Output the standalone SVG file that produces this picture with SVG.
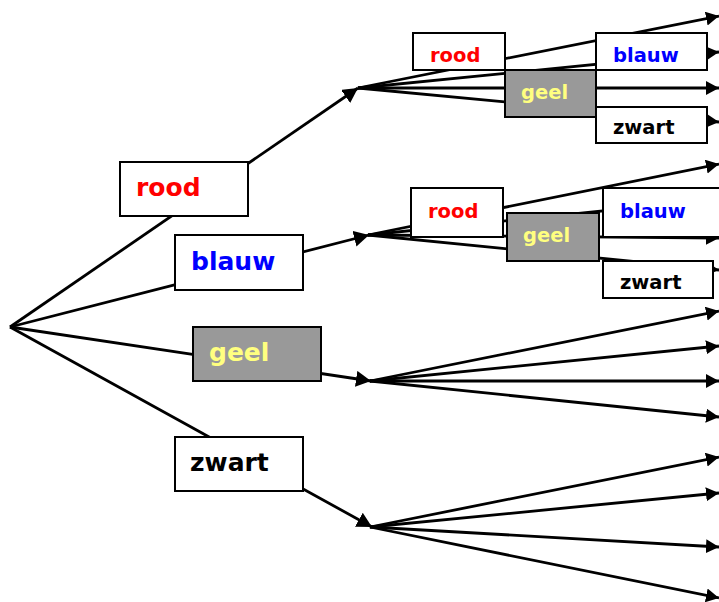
<svg xmlns="http://www.w3.org/2000/svg" width="719" height="602" viewBox="0 0 719 602">
<style>
.box{fill:#fff;stroke:#000;stroke-width:2}
.grey{fill:#999;stroke:#000;stroke-width:2}
.ln{stroke:#000;stroke-width:2.8;fill:none}
.t1{font-family:"DejaVu Sans",Verdana,sans-serif;font-weight:bold;font-size:25px}
.t2{font-family:"DejaVu Sans",Verdana,sans-serif;font-weight:bold;font-size:19.5px}
.r{fill:#f00}.b{fill:#00f}.y{fill:#ffff80}.k{fill:#000}
</style>
<defs>
<marker id="ah" markerUnits="userSpaceOnUse" markerWidth="14" markerHeight="16" refX="13" refY="7" orient="auto">
<path d="M0,0 L13,7 L0,14 z" fill="#000"/>
</marker>
<marker id="ah1" markerUnits="userSpaceOnUse" markerWidth="16" markerHeight="18" refX="15" refY="8" orient="auto">
<path d="M0,0 L15,8 L0,16 z" fill="#000"/>
</marker>
</defs>
<rect width="719" height="602" fill="#fff"/>
<g id="connectors">
<line class="ln" x1="10" y1="327" x2="358" y2="88" marker-end="url(#ah1)"/>
<line class="ln" x1="10" y1="327" x2="369" y2="235" marker-end="url(#ah1)"/>
<line class="ln" x1="10" y1="327" x2="371" y2="381" marker-end="url(#ah1)"/>
<line class="ln" x1="10" y1="327" x2="372" y2="527" marker-end="url(#ah1)"/>
<line class="ln" x1="358" y1="88" x2="719" y2="16" marker-end="url(#ah)"/>
<line class="ln" x1="358" y1="88" x2="719" y2="52" marker-end="url(#ah)"/>
<line class="ln" x1="358" y1="88" x2="719" y2="88" marker-end="url(#ah)"/>
<line class="ln" x1="358" y1="88" x2="719" y2="122" marker-end="url(#ah)"/>
<line class="ln" x1="368" y1="235" x2="719" y2="164" marker-end="url(#ah)"/>
<line class="ln" x1="368" y1="235" x2="719" y2="199" marker-end="url(#ah)"/>
<line class="ln" x1="368" y1="235" x2="719" y2="238" marker-end="url(#ah)"/>
<line class="ln" x1="368" y1="235" x2="719" y2="270" marker-end="url(#ah)"/>
<line class="ln" x1="370" y1="381" x2="719" y2="311" marker-end="url(#ah)"/>
<line class="ln" x1="370" y1="381" x2="719" y2="346" marker-end="url(#ah)"/>
<line class="ln" x1="370" y1="381" x2="719" y2="381" marker-end="url(#ah)"/>
<line class="ln" x1="370" y1="381" x2="719" y2="417" marker-end="url(#ah)"/>
<line class="ln" x1="370" y1="527" x2="719" y2="457" marker-end="url(#ah)"/>
<line class="ln" x1="370" y1="527" x2="719" y2="493" marker-end="url(#ah)"/>
<line class="ln" x1="370" y1="527" x2="719" y2="547" marker-end="url(#ah)"/>
<line class="ln" x1="370" y1="527" x2="719" y2="598" marker-end="url(#ah)"/>
</g>
<g id="n-rood"><rect class="box" x="120" y="162" width="128" height="54"/><text class="t1 r" x="136" y="196">rood</text></g>
<g id="n-blauw"><rect class="box" x="175" y="235" width="128" height="55"/><text class="t1 b" x="191" y="270">blauw</text></g>
<g id="n-geel"><rect class="grey" x="193" y="327" width="128" height="54"/><text class="t1 y" x="209" y="361">geel</text></g>
<g id="n-zwart"><rect class="box" x="175" y="437" width="128" height="54"/><text class="t1 k" x="190" y="471">zwart</text></g>
<g id="n-rood-rood"><rect class="box" x="413" y="33" width="92" height="37"/><text class="t2 r" x="430" y="62">rood</text></g>
<g id="n-rood-blauw"><rect class="box" x="596" y="33" width="111" height="37"/><text class="t2 b" x="613" y="62">blauw</text></g>
<g id="n-rood-geel"><rect class="grey" x="505" y="70" width="91" height="47"/><text class="t2 y" x="521" y="99">geel</text></g>
<g id="n-rood-zwart"><rect class="box" x="596" y="107" width="111" height="36"/><text class="t2 k" x="613" y="134">zwart</text></g>
<g id="n-blauw-rood"><rect class="box" x="411" y="188" width="92" height="49"/><text class="t2 r" x="428" y="218">rood</text></g>
<g id="n-blauw-blauw"><rect class="box" x="603" y="188" width="118" height="49"/><text class="t2 b" x="620" y="218">blauw</text></g>
<g id="n-blauw-geel"><rect class="grey" x="507" y="213" width="92" height="48"/><text class="t2 y" x="523" y="242">geel</text></g>
<g id="n-blauw-zwart"><rect class="box" x="603" y="261" width="110" height="37"/><text class="t2 k" x="620" y="289">zwart</text></g>
</svg>
